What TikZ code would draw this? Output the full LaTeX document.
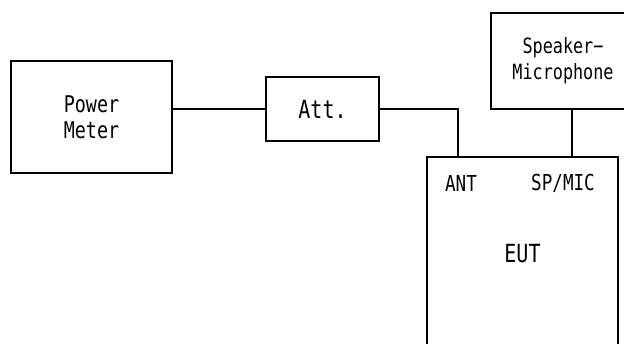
\documentclass[tikz,border=0pt]{standalone}
\usepackage{fontspec}
\setmonofont[FakeStretch=0.8]{DejaVu Sans Mono}
\usetikzlibrary{calc}
\begin{document}
\begin{tikzpicture}[x=1pt,y=-1pt,
  box/.style={draw, line width=1.5pt, inner sep=0pt, align=center},
  wire/.style={line width=1.5pt},
  lbl/.style={inner sep=0pt}]
\clip (0,0) rectangle (624,344);
\fill[white] (0,0) rectangle (624,344);
\node[box, minimum width=161pt, minimum height=112pt, font=\fontsize{23}{26}\selectfont\ttfamily] (pm) at (91.5,117) {Power\\Meter};
\node[box, minimum width=113pt, minimum height=64pt, font=\fontsize{25}{28}\selectfont\ttfamily] (att) at (322.5,109) {Att.};
\node[box, minimum width=144pt, minimum height=96pt, font=\fontsize{21}{26}\selectfont\ttfamily] (spk) at (563,61) {Speaker−\\Microphone};
\node[box, minimum width=191pt, minimum height=194pt, font=\fontsize{25}{28}\selectfont\ttfamily] (eut) at (522.5,254) {EUT};
\node[lbl, font=\fontsize{22}{24}\selectfont\ttfamily] (ant) at (461,183) {ANT};
\node[lbl, font=\fontsize{22}{24}\selectfont\ttfamily] (mic) at (563,183) {SP/MIC};
\coordinate (antport) at (458,157);
\coordinate (micport) at (572,157);
\draw[wire] (pm.east |- att.west) -- (att.west);
\draw[wire] (att.east) -| (antport);
\draw[wire] (spk.south -| micport) -- (micport);
\end{tikzpicture}
\end{document}
